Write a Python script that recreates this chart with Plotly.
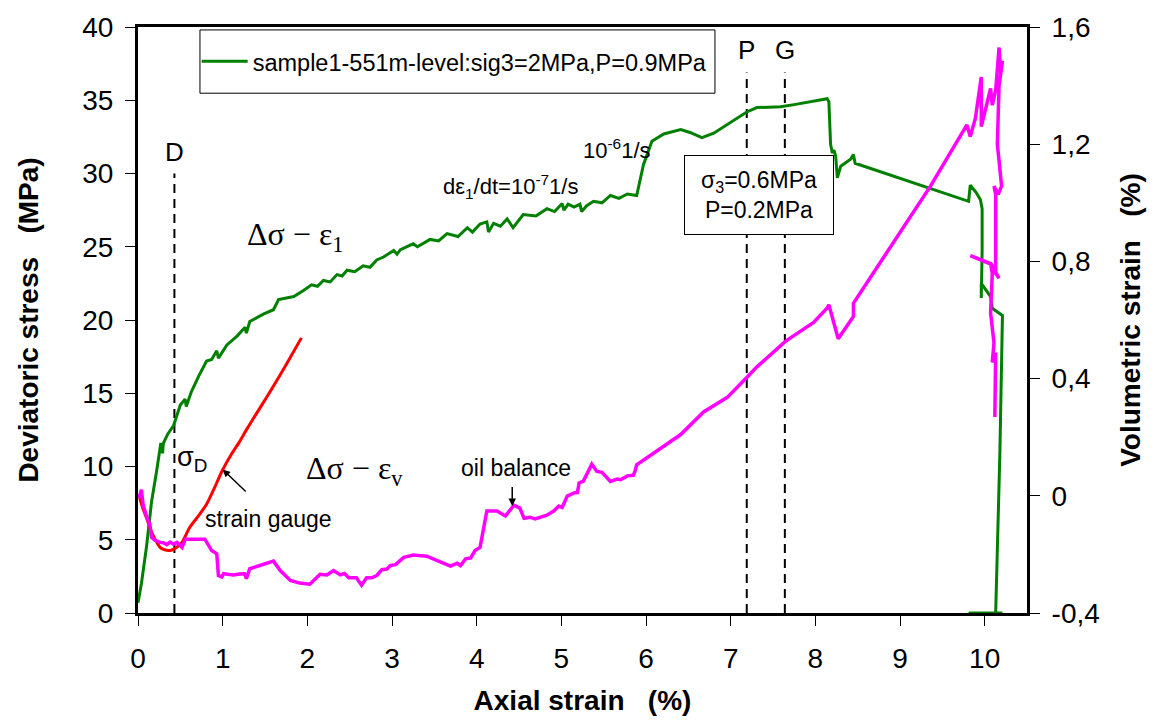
import plotly.graph_objects as go

# Deviatoric stress vs axial strain (left axis, MPa)
green_x = [0.0, 0.04, 0.10, 0.16, 0.22, 0.26, 0.27, 0.29, 0.30, 0.35, 0.42, 0.50, 0.556, 0.57, 0.63,
           0.72, 0.81, 0.87, 0.93, 0.95, 1.05, 1.17, 1.265, 1.28, 1.32, 1.48, 1.60, 1.66, 1.84, 1.95,
           2.05, 2.12, 2.19, 2.27, 2.35, 2.41, 2.47, 2.56, 2.66, 2.74, 2.82, 2.90, 3.02, 3.06, 3.10,
           3.25, 3.30, 3.45, 3.55, 3.65, 3.78, 3.89, 3.95, 4.04, 4.12, 4.14, 4.20, 4.28, 4.36, 4.43,
           4.55, 4.70, 4.83, 4.92, 5.01, 5.03, 5.08, 5.15, 5.22, 5.24, 5.30, 5.38, 5.48, 5.58, 5.68,
           5.78, 5.89, 5.97, 6.07, 6.21, 6.41, 6.52, 6.66, 6.80, 7.00, 7.19, 7.31, 7.59, 7.75, 8.14,
           8.16, 8.18, 8.20, 8.22, 8.24, 8.26, 8.30, 8.42, 8.45, 8.47, 9.81, 9.83, 9.90, 9.95, 9.97,
           9.97, 9.96, 9.96, 10.07, 10.09, 10.21, 10.18, 10.13, 10.21, 9.81]
green_y = [0.7, 2.0, 4.5, 7.6, 9.7, 11.0, 11.6, 10.9, 11.6, 12.2, 12.8, 14.2, 14.6, 14.1, 15.1,
           16.2, 17.2, 17.3, 17.9, 17.4, 18.3, 18.9, 19.5, 19.1, 19.9, 20.4, 20.7, 21.4, 21.6, 22.0,
           22.4, 22.3, 22.7, 22.6, 23.1, 23.0, 23.4, 23.3, 23.7, 23.6, 24.1, 24.3, 24.75, 24.5, 24.8,
           25.2, 25.0, 25.5, 25.4, 25.9, 25.7, 26.3, 26.0, 26.55, 26.7, 26.0, 26.6, 26.4, 26.9, 26.3,
           27.2, 27.1, 27.6, 27.4, 27.95, 27.5, 27.9, 27.7, 27.9, 27.4, 27.8, 28.1, 28.0, 28.5, 28.3,
           28.6, 28.5, 30.6, 32.2, 32.7, 33.0, 32.8, 32.45, 32.75, 33.5, 34.2, 34.5, 34.55, 34.7, 35.1,
           34.9, 32.0, 31.4, 31.6, 31.2, 29.7, 30.5, 31.0, 31.3, 30.7, 28.1, 29.2, 28.7, 28.2, 27.6,
           24.75, 21.5, 22.5, 21.6, 20.8, 20.3, 11.0, 0.0, 0.0, 0.0]

# Volumetric strain vs axial strain (right axis, %)
vol_x = [0.0, 0.02, 0.04, 0.05, 0.06, 0.10, 0.14, 0.16, 0.20, 0.26, 0.30, 0.34, 0.38, 0.42, 0.46,
         0.52, 0.56, 0.79, 0.87, 0.93, 0.95, 0.99, 1.01, 1.06, 1.13, 1.20, 1.26, 1.28, 1.32, 1.60,
         1.68, 1.80, 1.91, 2.03, 2.15, 2.23, 2.31, 2.39, 2.44, 2.49, 2.58, 2.64, 2.70, 2.76, 2.82,
         2.88, 2.94, 2.98, 3.04, 3.14, 3.25, 3.41, 3.57, 3.69, 3.77, 3.81, 3.87, 3.93, 3.98, 4.04,
         4.12, 4.24, 4.34, 4.44, 4.51, 4.56, 4.63, 4.69, 4.83, 4.91, 4.97, 5.01, 5.07, 5.15, 5.19,
         5.21, 5.26, 5.36, 5.42, 5.48, 5.58, 5.66, 5.70, 5.78, 5.85, 5.87, 5.89, 6.11, 6.41, 6.68,
         6.96, 7.19, 7.31, 7.65, 7.98, 8.14, 8.16, 8.27, 8.45, 8.45, 9.36, 9.79, 9.83, 9.89, 9.96,
         9.96, 10.07, 10.09, 10.13, 10.17, 10.19, 10.21, 10.17, 10.15, 10.17, 10.20, 10.16, 10.11,
         10.13, 10.13, 10.17, 10.08, 9.83, 10.07, 10.09, 10.07, 10.11, 10.09, 10.13, 10.12]
vol_y = [-0.007, 0.0, 0.021, -0.02, -0.03, -0.07, -0.097, -0.142, -0.152, -0.159, -0.16, -0.167,
         -0.158, -0.165, -0.159, -0.176, -0.148, -0.148, -0.187, -0.198, -0.272, -0.277, -0.266,
         -0.268, -0.27, -0.267, -0.266, -0.283, -0.249, -0.223, -0.255, -0.289, -0.298, -0.302,
         -0.268, -0.27, -0.255, -0.27, -0.265, -0.28, -0.28, -0.305, -0.28, -0.28, -0.272, -0.252,
         -0.25, -0.238, -0.235, -0.21, -0.202, -0.206, -0.227, -0.24, -0.23, -0.238, -0.215, -0.212,
         -0.187, -0.176, -0.052, -0.052, -0.069, -0.032, -0.042, -0.077, -0.073, -0.079, -0.066,
         -0.052, -0.035, -0.04, -0.001, 0.01, 0.011, 0.044, 0.05, 0.108, 0.083, 0.08, 0.049, 0.057,
         0.055, 0.068, 0.07, 0.083, 0.106, 0.151, 0.209, 0.286, 0.336, 0.404, 0.44, 0.528, 0.592,
         0.641, 0.652, 0.536, 0.612, 0.657, 1.057, 1.266, 1.226, 1.288, 1.429, 1.26, 1.39, 1.333,
         1.384, 1.53, 1.44, 1.485, 1.40, 1.20, 1.142, 1.057, 1.029, 1.057, 1.029, 0.759, 0.742,
         0.79, 0.82, 0.793, 0.759, 0.624, 0.522, 0.455, 0.488, 0.269]

# Volumetric strain from strain gauges (right axis, %)
gauge_x = [0.02, 0.06, 0.10, 0.14, 0.18, 0.22, 0.26, 0.31, 0.36, 0.40, 0.44, 0.48, 0.52, 0.61,
           0.71, 0.81, 0.90, 0.99, 1.11, 1.20, 1.28, 1.38, 1.48, 1.58, 1.68, 1.80, 1.93]
gauge_y = [-0.007, -0.045, -0.075, -0.108, -0.136, -0.158, -0.176, -0.184, -0.187, -0.185, -0.179,
           -0.17, -0.159, -0.108, -0.07, -0.029, 0.025, 0.083, 0.145, 0.185, 0.225, 0.272, 0.318,
           0.365, 0.413, 0.473, 0.539]

# Marked strain levels D, P, G and the stress height each dashed line reaches
mark_names = ["D", "P", "G"]
mark_x = [0.43, 7.19, 7.64]
mark_top = [30.0, 36.9, 36.9]

x_ticks = list(range(0, 11))
left_ticks = [0, 5, 10, 15, 20, 25, 30, 35, 40]
right_ticks = [-0.4, 0.0, 0.4, 0.8, 1.2, 1.6]
right_tick_text = ["-0,4", "0", "0,4", "0,8", "1,2", "1,6"]

SANS = "Arial, Liberation Sans, sans-serif"
SERIF = "Times New Roman, Liberation Serif, serif"

fig = go.Figure()

for mx, top in zip(mark_x, mark_top):
    fig.add_trace(go.Scatter(x=[mx, mx], y=[0, top], mode="lines", showlegend=False,
                             hoverinfo="skip",
                             line=dict(color="black", width=2, dash="9px,6px")))

fig.add_trace(go.Scatter(x=gauge_x, y=gauge_y, yaxis="y2", mode="lines", showlegend=False,
                         line=dict(color="#FF0000", width=3, shape="spline", smoothing=0.6)))
fig.add_trace(go.Scatter(x=vol_x, y=vol_y, yaxis="y2", mode="lines", showlegend=False,
                         line=dict(color="#FF00FF", width=3.5)))
fig.add_trace(go.Scatter(x=green_x, y=green_y, mode="lines",
                         name="sample1-551m-level:sig3=2MPa,P=0.9MPa",
                         line=dict(color="#008000", width=3)))

annotations = []
for name, mx, top in zip(mark_names, mark_x, mark_top):
    annotations.append(dict(x=mx, y=top + 1.5, text=name, showarrow=False, xref="x", yref="y",
                            font=dict(family=SANS, size=26, color="black")))

texts = [
    (0.64, 10.5, "σ<sub>D</sub>", SANS, 27),
    (1.86, 25.7, "Δσ − ε<sub>1</sub>", SERIF, 32),
    (2.56, 9.7, "Δσ − ε<sub>v</sub>", SERIF, 32),
    (4.40, 29.1, "dε<sub>1</sub>/dt=10<sup>-7</sup>1/s", SANS, 22),
    (5.66, 31.7, "10<sup>-6</sup>1/s", SANS, 22),
    (4.47, 9.9, "oil balance", SANS, 23),
    (1.54, 6.4, "strain gauge", SANS, 23),
]
for tx, ty, t, fam, sz in texts:
    annotations.append(dict(x=tx, y=ty, text=t, showarrow=False, xref="x", yref="y",
                            font=dict(family=fam, size=sz, color="black")))

# arrows pointing at the gauge curve and the oil-balance step
annotations.append(dict(x=1.0, y=9.8, ax=1.29, ay=8.2, axref="x", ayref="y", xref="x", yref="y",
                        text="", showarrow=True, arrowhead=2, arrowsize=1, arrowwidth=1.5,
                        arrowcolor="black"))
annotations.append(dict(x=4.42, y=7.3, ax=4.42, ay=8.7, axref="x", ayref="y", xref="x", yref="y",
                        text="", showarrow=True, arrowhead=2, arrowsize=1, arrowwidth=1.5,
                        arrowcolor="black"))

annotations.append(dict(x=7.33, y=28.5, xref="x", yref="y", showarrow=False,
                        text="σ<sub>3</sub>=0.6MPa<br>P=0.2MPa",
                        font=dict(family=SANS, size=23, color="black"),
                        bgcolor="white", bordercolor="black", borderwidth=1,
                        width=146, height=76))

fig.update_layout(
    width=1155, height=724,
    margin=dict(l=138, r=128, t=21, b=111),
    paper_bgcolor="white", plot_bgcolor="white",
    font=dict(family=SANS, color="black"),
    annotations=annotations,
    shapes=[dict(type="rect", xref="paper", yref="paper", x0=0.0697, x1=0.649, y0=0.887,
                 y1=0.995, line=dict(color="black", width=1), fillcolor="rgba(0,0,0,0)")],
    showlegend=True,
    legend=dict(x=0.066, y=0.941, xanchor="left", yanchor="middle", itemwidth=46,
                bgcolor="rgba(0,0,0,0)", borderwidth=0,
                font=dict(family=SANS, size=23.5, color="black")),
    xaxis=dict(range=[0, 10.5], tickvals=x_ticks, ticks="outside", ticklen=10, tickwidth=1,
               tickcolor="black", showline=True, linewidth=3, linecolor="black", mirror=True,
               showgrid=False, zeroline=False, layer="below traces", ticklabelstandoff=8,
               tickfont=dict(family=SANS, size=28),
               title=dict(text="Axial strain\u00a0\u00a0\u00a0(%)", standoff=18,
                          font=dict(family=SANS, size=28, weight="bold"))),
    yaxis=dict(range=[0, 40], tickvals=left_ticks, ticks="outside", ticklen=10, tickwidth=1,
               tickcolor="black", showline=True, linewidth=3, linecolor="black",
               showgrid=False, zeroline=False, tickfont=dict(family=SANS, size=28),
               ticklabelstandoff=6,
               title=dict(text="Deviatoric stress\u00a0\u00a0\u00a0(MPa)", standoff=36,
                          font=dict(family=SANS, size=28, weight="bold"))),
    yaxis2=dict(range=[-0.4, 1.6], overlaying="y", side="right", tickvals=right_ticks,
                ticktext=right_tick_text, ticks="outside", ticklen=10, tickwidth=1,
                tickcolor="black", showline=True, linewidth=3, linecolor="black",
                showgrid=False, zeroline=False, tickfont=dict(family=SANS, size=28),
                ticklabelstandoff=6,
                title=dict(text="Volumetric strain\u00a0\u00a0\u00a0(%)", standoff=22,
                           font=dict(family=SANS, size=28, weight="bold"))),
)

fig.write_html("out.html")
